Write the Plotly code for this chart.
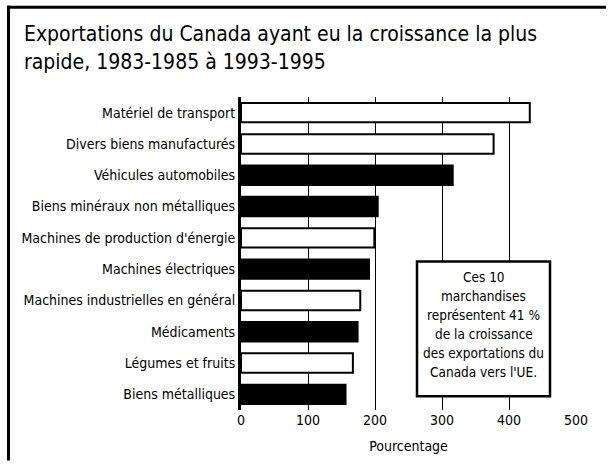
import plotly.graph_objects as go

categories = ["Matériel de transport", "Divers biens manufacturés", "Véhicules automobiles",
              "Biens minéraux non métalliques", "Machines de production d'énergie",
              "Machines électriques", "Machines industrielles en général", "Médicaments",
              "Légumes et fruits", "Biens métalliques"]
values = [431, 377, 316, 204, 199, 191, 178, 174, 167, 156]
filled = [False, False, True, True, False, True, False, True, False, True]
x_ticks = [0, 100, 200, 300, 400, 500]
title_lines = ["Exportations du Canada ayant eu la croissance la plus",
               "rapide, 1983-1985 à 1993-1995"]
box_lines = ["Ces 10", "marchandises", "représentent 41 %", "de la croissance",
             "des exportations du", "Canada vers l'UE."]

FONT = "DejaVu Sans Condensed, Liberation Sans Narrow, Arial Narrow, sans-serif"

L, R, T, B = 241, 576, 97, 413
def px(xp):
    return (xp - L) / (R - L)
def py(yp):
    return (B - yp) / (B - T)

colors = ["black" if f else "white" for f in filled]

fig = go.Figure(go.Bar(
    y=categories, x=values, orientation="h",
    marker=dict(color=colors, line=dict(color="black", width=2)),
    width=0.62, hoverinfo="skip",
))

fig.update_layout(
    width=608, height=464,
    margin=dict(l=L, r=608 - R, t=T, b=464 - B),
    paper_bgcolor="white", plot_bgcolor="white",
    showlegend=False,
    font=dict(family=FONT, color="black", size=14),
)
fig.update_xaxes(range=[0, 500], tickvals=x_ticks, showgrid=True, gridcolor="black",
                 gridwidth=1, zeroline=False, showline=False, ticks="",
                 tickfont=dict(size=14), title=dict(text="Pourcentage", font=dict(size=14), standoff=14))
fig.update_yaxes(autorange="reversed", showline=True, linecolor="black", linewidth=3,
                 ticks="", showgrid=False, tickfont=dict(size=14), ticklabelstandoff=0)

for i, line in enumerate(title_lines):
    fig.add_annotation(text=line, xref="paper", yref="paper", x=px(22), y=py(33 + 29 * i),
                       xanchor="left", yanchor="middle", showarrow=False,
                       font=dict(size=21, family=FONT))

fig.add_shape(type="rect", xref="paper", yref="paper",
              x0=px(417), x1=px(550), y0=py(263), y1=py(399),
              fillcolor="white", line=dict(color="black", width=2.5), layer="above")
for i, line in enumerate(box_lines):
    fig.add_annotation(text=line, xref="paper", yref="paper", x=px(483.5), y=py(279 + 19.2 * i),
                       xanchor="center", yanchor="middle", showarrow=False,
                       font=dict(size=13.5, family=FONT))

# outer frame: top edge (two segments) and left edge
for xa, xb in [(7, 300), (300, 606)]:
    fig.add_shape(type="rect", xref="paper", yref="paper",
                  x0=px(xa), x1=px(xb), y0=py(8), y1=py(5),
                  line=dict(width=0), fillcolor="black", layer="above")
fig.add_shape(type="rect", xref="paper", yref="paper",
              x0=px(7), x1=px(10), y0=py(464), y1=py(5),
              line=dict(width=0), fillcolor="black", layer="above")

fig.write_html("out.html", config={"displayModeBar": False},
               post_script="document.body.style.margin='0';document.body.style.overflow='hidden';")
